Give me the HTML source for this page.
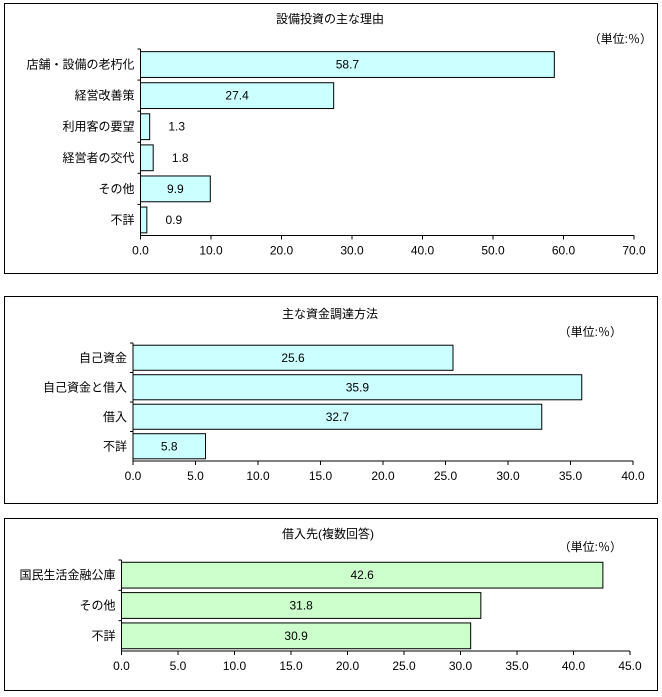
<!DOCTYPE html>
<html><head><meta charset="utf-8"><style>
body{margin:0;background:#fff;font-family:"Liberation Sans","Noto Sans CJK JP",sans-serif;}
svg text{font-family:"Liberation Sans","Noto Sans CJK JP",sans-serif;font-size:12px;fill:#000;}
</style></head><body>
<svg id="s" width="662" height="692" xmlns="http://www.w3.org/2000/svg"></svg>
<script>
const c1Cats=["店舗・設備の老朽化","経営改善策","利用客の要望","経営者の交代","その他","不詳"];
const c1Vals=[58.7,27.4,1.3,1.8,9.9,0.9];
const c1Ticks=["0.0","10.0","20.0","30.0","40.0","50.0","60.0","70.0"];
const c2Cats=["自己資金","自己資金と借入","借入","不詳"];
const c2Vals=[25.6,35.9,32.7,5.8];
const c2Ticks=["0.0","5.0","10.0","15.0","20.0","25.0","30.0","35.0","40.0"];
const c3Cats=["国民生活金融公庫","その他","不詳"];
const c3Vals=[42.6,31.8,30.9];
const c3Ticks=["0.0","5.0","10.0","15.0","20.0","25.0","30.0","35.0","40.0","45.0"];
const NS="http://www.w3.org/2000/svg";
const svg=document.getElementById('s');
function mk(t,a,p){const e=document.createElementNS(NS,t);for(const k in a)e.setAttribute(k,a[k]);(p||svg).appendChild(e);return e;}
function chart(cfg){
  const g=mk('g',{});
  
  
  const box=mk('rect',{x:cfg.bx,y:cfg.by,width:cfg.bw,height:cfg.bh,fill:'#fff',stroke:'#000','stroke-width':1},g);
  
  
  const t=mk('text',{x:cfg.tx,y:cfg.ty,'text-anchor':'middle'},g);t.textContent=cfg.title;
  
  
  const u=mk('text',{x:cfg.ux,y:cfg.uy,'text-anchor':'end'},g);u.textContent='（単位:％）';
  
  
  const max=parseFloat(cfg.ticks[cfg.ticks.length-1]);
  const xs=v=>cfg.x0+(cfg.x1-cfg.x0)*v/max;
  const n=cfg.cats.length,band=(cfg.yb-cfg.yt)/n;
  cfg.cats.forEach((cat,i)=>{
    const y=cfg.yt+i*band, h=band*cfg.bf, yy=y+(band-h)/2, v=cfg.vals[i];
    const r=mk('rect',{x:cfg.x0,y:yy,width:xs(v)-cfg.x0,height:h,fill:cfg.fill,stroke:'#000','stroke-width':1},g);
    
    
    const l=mk('text',{x:cfg.x0-6,y:y+band/2+4,'text-anchor':'end'},g);l.textContent=cat;
    
    
    const inside=xs(v)-cfg.x0>30;
    const vl=mk('text',{x:inside?(cfg.x0+xs(v))/2:xs(v)+27,y:y+band/2+4,'text-anchor':'middle'},g);
    vl.textContent=v.toFixed(1);
    
    
    mk('line',{x1:cfg.x0-3,x2:cfg.x0,y1:y,y2:y,stroke:'#000'},g);
  });
  mk('line',{x1:cfg.x0,x2:cfg.x0,y1:cfg.yt,y2:cfg.yb,stroke:'#000'},g);
  mk('line',{x1:cfg.x0,x2:cfg.x1,y1:cfg.yb,y2:cfg.yb,stroke:'#000'},g);
  cfg.ticks.forEach(tk=>{
    const x=xs(parseFloat(tk));
    mk('line',{x1:x,x2:x,y1:cfg.yb,y2:cfg.yb+4,stroke:'#000'},g);
    const tl=mk('text',{x:x,y:cfg.yb+19,'text-anchor':'middle'},g);tl.textContent=tk;
    
    
  });
}
chart({name:'chart-investment-reasons',bx:4.5,by:3.5,bw:653,bh:270,title:'設備投資の主な理由',tx:330,ty:23,ux:652,uy:43,
  cats:c1Cats,vals:c1Vals,ticks:c1Ticks,x0:140.5,x1:634,yt:49,yb:235.5,bf:0.83,fill:'#ccffff'});
chart({name:'chart-funding-methods',bx:4.5,by:296.5,bw:653,bh:207,title:'主な資金調達方法',tx:330,ty:318,ux:622,uy:336,
  cats:c2Cats,vals:c2Vals,ticks:c2Ticks,x0:133,x1:633,yt:343,yb:461,bf:0.85,fill:'#ccffff'});
chart({name:'chart-lenders',bx:4.5,by:518.5,bw:653,bh:172,title:'借入先(複数回答)',tx:328,ty:538,ux:622,uy:551,
  cats:c3Cats,vals:c3Vals,ticks:c3Ticks,x0:121.5,x1:630,yt:560,yb:651,bf:0.85,fill:'#ccffcc'});
</script>
</body></html>
